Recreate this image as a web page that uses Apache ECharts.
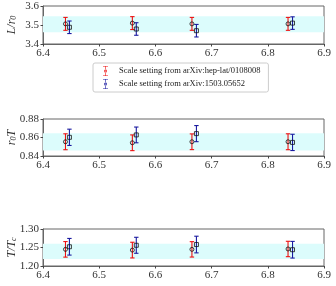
<!DOCTYPE html>
<html><head><meta charset="utf-8">
<script src="https://cdn.jsdelivr.net/npm/echarts@6/dist/echarts.min.js"></script>
<style>html,body{margin:0;padding:0;background:#fff}#c{width:336px;height:286px}</style>
</head><body><div id="c"></div>
<script>
const xRed  = [6.440, 6.559, 6.665, 6.836];
const xBlue = [6.447, 6.566, 6.673, 6.844];
// panel 1: L/r0
const lr0Red  = [3.506, 3.510, 3.506, 3.506];
const lr0RedErr  = [0.034, 0.034, 0.034, 0.034];
const lr0Blue = [3.488, 3.479, 3.470, 3.510];
const lr0BlueErr = [0.033, 0.033, 0.033, 0.033];
const lr0Band = [3.462, 3.546];
// panel 2: r0 T
const r0tRed  = [0.8554, 0.8543, 0.8554, 0.8554];
const r0tRedErr  = [0.0086, 0.0085, 0.0085, 0.0086];
const r0tBlue = [0.8602, 0.8628, 0.8642, 0.8547];
const r0tBlueErr = [0.0088, 0.0085, 0.0087, 0.0088];
const r0tBand = [0.8459, 0.8646];
// panel 3: T/Tc
const ttcRed  = [1.2450, 1.2430, 1.2450, 1.2460];
const ttcRedErr  = [0.0210, 0.0212, 0.0208, 0.0208];
const ttcBlue = [1.2520, 1.2560, 1.2580, 1.2440];
const ttcBlueErr = [0.0225, 0.0216, 0.0225, 0.0225];
const ttcBand = [1.2190, 1.2600];

const xTicks = [6.4, 6.5, 6.6, 6.7, 6.8, 6.9];
const nameRed = 'Scale setting from arXiv:hep-lat/0108008';
const nameBlue = 'Scale setting from arXiv:1503.05652';

const RED = '#ee1111', BLUE = '#1a1aa0';
const FONT = '"Liberation Serif", "DejaVu Serif", serif';

const panels = [
  {top: 6, height: 38, min: 3.4, max: 3.6, interval: 0.1, dec: 1, red: lr0Red, redErr: lr0RedErr, blue: lr0Blue, blueErr: lr0BlueErr, band: lr0Band,
   name: '{i|L/r}{s|0}'},
  {top: 119, height: 37, min: 0.84, max: 0.88, interval: 0.02, dec: 2, red: r0tRed, redErr: r0tRedErr, blue: r0tBlue, blueErr: r0tBlueErr, band: r0tBand,
   name: '{i|r}{s|0}{i|T}'},
  {top: 229, height: 37, min: 1.20, max: 1.30, interval: 0.05, dec: 2, red: ttcRed, redErr: ttcRedErr, blue: ttcBlue, blueErr: ttcBlueErr, band: ttcBand,
   name: '{i|T/T}{s|c}'}
];

function errRender(color) {
  return function (params, api) {
    const x = api.value(0), y = api.value(1), e = api.value(2);
    const top = api.coord([x, y + e]);
    const bot = api.coord([x, y - e]);
    const cw = 2.2;
    const st = {stroke: color, lineWidth: 1.1};
    return {type: 'group', children: [
      {type: 'line', shape: {x1: top[0], y1: top[1], x2: bot[0], y2: bot[1]}, style: st},
      {type: 'line', shape: {x1: top[0] - cw, y1: top[1], x2: top[0] + cw, y2: top[1]}, style: st},
      {type: 'line', shape: {x1: bot[0] - cw, y1: bot[1], x2: bot[0] + cw, y2: bot[1]}, style: st}
    ]};
  };
}

const grid = [], xAxis = [], yAxis = [], series = [];
panels.forEach((p, i) => {
  grid.push({left: 43, right: 12, top: p.top, height: p.height, show: true, borderColor: '#666', borderWidth: 1,
    backgroundColor: 'transparent', containLabel: false, outerBoundsMode: 'none'});
  xAxis.push({type: 'value', gridIndex: i, min: xTicks[0], max: xTicks[xTicks.length - 1], interval: 0.1,
    axisLine: {show: true, lineStyle: {color: '#666'}}, axisTick: {show: true, length: 2.5, lineStyle: {color: '#444'}},
    splitLine: {show: false},
    axisLabel: {fontFamily: FONT, fontSize: 11, color: '#333', margin: 4, formatter: v => v.toFixed(1)}});
  yAxis.push({type: 'value', gridIndex: i, min: p.min, max: p.max, interval: p.interval,
    axisLine: {show: true, lineStyle: {color: '#666'}}, axisTick: {show: true, length: 2.5, lineStyle: {color: '#444'}},
    splitLine: {show: false},
    axisLabel: {fontFamily: FONT, fontSize: 11, color: '#333', margin: 4, formatter: v => v.toFixed(p.dec)},
    name: p.name, nameLocation: 'middle', nameGap: 25, nameRotate: 90, nameMoveOverlap: false,
    nameTextStyle: {fontFamily: FONT, color: '#333', rich: {
      i: {fontFamily: FONT, fontStyle: 'italic', fontSize: 12, color: '#333'},
      s: {fontFamily: FONT, fontStyle: 'italic', fontSize: 8, color: '#333', padding: [5, 0, 0, 0]}
    }}});
  // band
  series.push({type: 'scatter', xAxisIndex: i, yAxisIndex: i, data: [], silent: true, z: 0,
    markArea: {silent: true, itemStyle: {color: '#dcfcfc'}, data: [[{yAxis: p.band[0]}, {yAxis: p.band[1]}]]}});
  // error bars
  series.push({type: 'custom', name: nameRed, xAxisIndex: i, yAxisIndex: i, renderItem: errRender(RED), itemStyle: {color: RED},
    data: xRed.map((x, k) => [x, p.red[k], p.redErr[k]]), z: 3});
  series.push({type: 'custom', name: nameBlue, xAxisIndex: i, yAxisIndex: i, renderItem: errRender(BLUE), itemStyle: {color: BLUE},
    data: xBlue.map((x, k) => [x, p.blue[k], p.blueErr[k]]), z: 3});
  // markers
  series.push({type: 'scatter', name: nameRed, xAxisIndex: i, yAxisIndex: i, symbol: 'circle', symbolSize: 4,
    itemStyle: {color: 'rgba(0,0,0,0)', borderColor: '#111', borderWidth: 1}, data: xRed.map((x, k) => [x, p.red[k]]), z: 5});
  series.push({type: 'scatter', name: nameBlue, xAxisIndex: i, yAxisIndex: i, symbol: 'rect', symbolSize: 4,
    itemStyle: {color: 'rgba(0,0,0,0)', borderColor: '#111', borderWidth: 1}, data: xBlue.map((x, k) => [x, p.blue[k]]), z: 5});
});

const iconPath = 'path://M0,0h10v1.2h-10zM4.4,0h1.2v20h-1.2zM0,18.8h10v1.2h-10zM5,7a3,3 0 1,0 0.01,0zM5,8.3a1.7,1.7 0 1,1 -0.01,0z';

const chart = echarts.init(document.getElementById('c'), null, {renderer: 'canvas'});
chart.setOption({
  animation: false,
  grid, xAxis, yAxis, series,
  legend: {
    left: 93, top: 63, orient: 'vertical', itemGap: 3, itemWidth: 5, itemHeight: 10,
    padding: [3, 8, 3, 10], borderColor: '#ccc', borderWidth: 1, borderRadius: 2, backgroundColor: '#fff',
    selectedMode: false,
    textStyle: {fontFamily: FONT, fontSize: 8.5, color: '#222', padding: [0, 0, 0, 6]},
    data: [{name: nameRed, icon: iconPath, itemStyle: {color: RED}}, {name: nameBlue, icon: iconPath, itemStyle: {color: BLUE}}]
  }
});
</script></body></html>
